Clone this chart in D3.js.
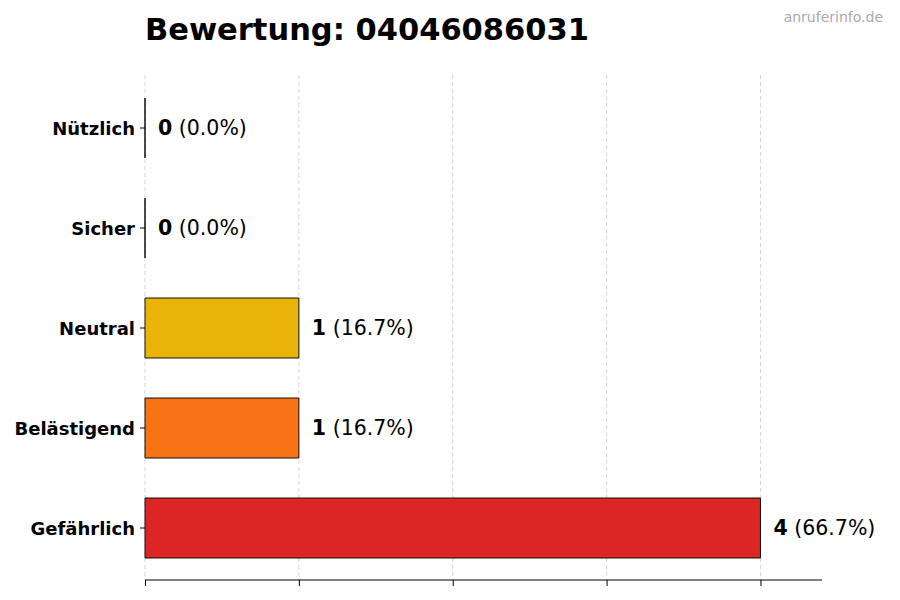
<!DOCTYPE html>
<html lang="de">
<head>
<meta charset="utf-8">
<title>Bewertung</title>
<script src="https://d3js.org/d3.v7.min.js"></script>
<style type="text/css">
body { margin: 0; background: #fff; }
svg  { font-family: "DejaVu Sans", sans-serif; }
</style>
</head>
<body>
<script type="text/javascript">

// data
var categories = ["Nützlich", "Sicher", "Neutral", "Belästigend", "Gefährlich"];
var counts     = [0, 0, 1, 1, 4];
var colors     = ["#22C55E", "#3B82F6", "#EAB308", "#F97316", "#DC2626"];
var xTicks     = [0, 1, 2, 3, 4];
var title      = "Bewertung: 04046086031";
var watermark  = "anruferinfo.de";

var W = 900, H = 600;
var mLeft = 145, mRight = 822, mTop = 78, mBottom = 578, axisY = 580;

var total = d3.sum(counts);

var svg = d3.select("body").append("svg")
    .attr("width", W)
    .attr("height", H);

var x = d3.scaleLinear()
    .domain([0, d3.max(counts) * 1.1])
    .range([mLeft, mRight]);

var y = d3.scaleBand()
    .domain(categories)
    .range([mTop, mBottom])
    .paddingInner(0.4)
    .paddingOuter(0.2);

// grid
svg.selectAll(".grid")
    .data(xTicks)
    .enter()
    .append("line")
    .attr("x1", function(d) { return x(d); })
    .attr("x2", function(d) { return x(d); })
    .attr("y1", 75)
    .attr("y2", axisY)
    .attr("stroke", "#ccc")
    .attr("stroke-width", 0.8)
    .attr("stroke-dasharray", "4,3");

// bars as paths, so zero-width bars still show their edge
svg.selectAll(".bar")
    .data(categories)
    .enter()
    .append("path")
    .attr("d", function(d, i) {
        var x0 = x(0), x1 = x(counts[i]), y0 = y(d), y1 = y(d) + y.bandwidth();
        return "M" + x0 + "," + y0 + "H" + x1 + "V" + y1 + "H" + x0 + "Z";
    })
    .attr("fill", function(d, i) { return colors[i]; })
    .attr("stroke", "#111")
    .attr("stroke-width", 1);

// x axis (ticks only, no labels)
svg.append("g")
    .attr("transform", "translate(0," + axisY + ")")
    .call(d3.axisBottom(x).tickValues(xTicks).tickSize(6).tickFormat(""))
    .call(function(g) {
        g.select(".domain").attr("d", "M" + mLeft + ",0H" + mRight).attr("stroke", "#000");
    });

// y axis (labels + tick marks, no spine)
var yAxis = svg.append("g")
    .attr("transform", "translate(" + mLeft + ",0)")
    .call(d3.axisLeft(y).tickSize(5).tickPadding(5));
yAxis.select(".domain").remove();
yAxis.selectAll("line").attr("stroke", "#000");
yAxis.selectAll("text")
    .attr("font-family", "DejaVu Sans, sans-serif")
    .attr("font-size", 18)
    .attr("font-weight", "bold")
    .attr("dy", "0.4em")
    .attr("fill", "#000");

// value labels
var labels = svg.selectAll(".val")
    .data(categories)
    .enter()
    .append("text")
    .attr("x", function(d, i) { return x(counts[i]) + 13; })
    .attr("y", function(d) { return y(d) + y.bandwidth() / 2; })
    .attr("dy", "0.35em")
    .attr("font-size", 20.5)
    .attr("fill", "#000");
labels.append("tspan")
    .attr("font-weight", "bold")
    .text(function(d, i) { return counts[i]; });
labels.append("tspan")
    .text(function(d, i) { return " (" + (counts[i] / total * 100).toFixed(1) + "%)"; });

// title
svg.append("text")
    .attr("x", mLeft)
    .attr("y", 40)
    .attr("font-size", 30.5)
    .attr("font-weight", "bold")
    .attr("fill", "#000")
    .text(title);

svg.append("text")
    .attr("x", 883)
    .attr("y", 22)
    .attr("text-anchor", "end")
    .attr("font-size", 14)
    .attr("fill", "#aaa")
    .text(watermark);

</script>
</body>
</html>
